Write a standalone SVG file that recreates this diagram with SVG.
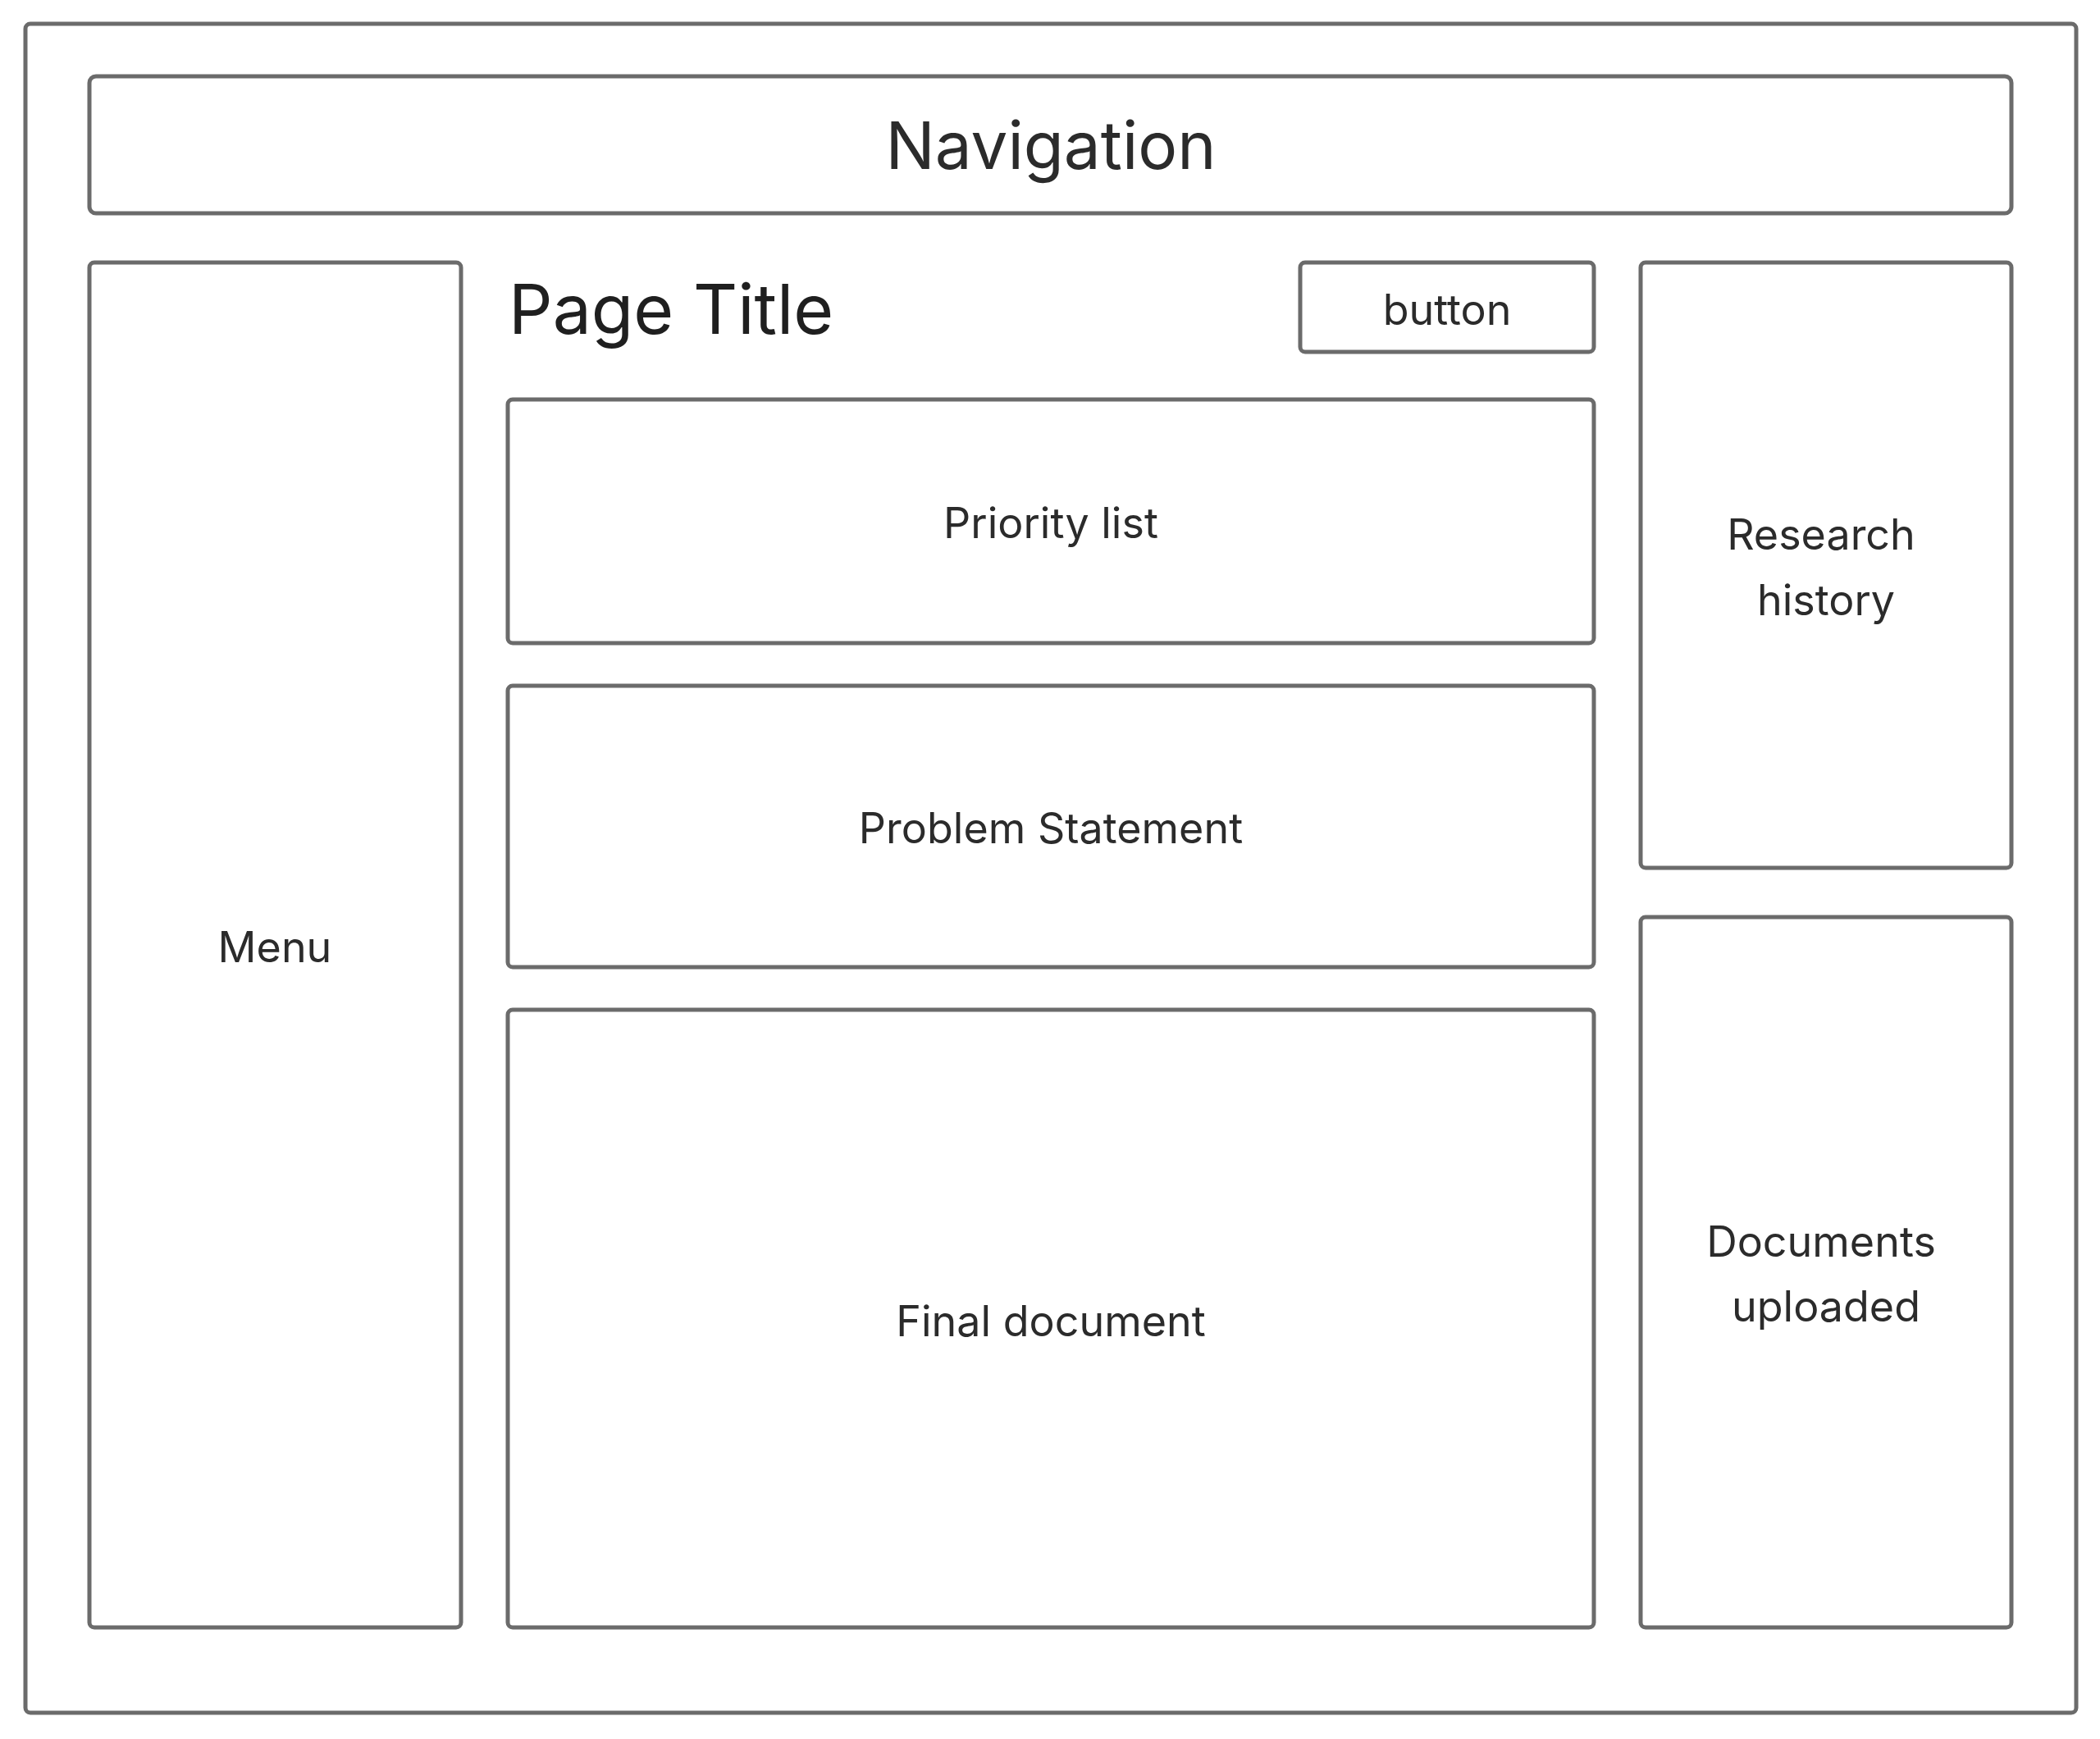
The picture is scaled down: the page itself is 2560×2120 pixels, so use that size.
<svg xmlns="http://www.w3.org/2000/svg" width="2560" height="2120" viewBox="0 0 2560 2120">
<style>
rect{fill:#fff;stroke:#6b6b6b;stroke-width:5}
text{font-family:Inter,"Noto Sans",sans-serif;fill:#2b2b2b;text-anchor:middle;dominant-baseline:central;font-size:52px}
</style>
<rect x="0" y="0" width="2560" height="2120" style="stroke:none"/>
<g id="frame"><rect x="31" y="29" width="2500" height="2059" rx="6"/></g>
<g id="navigation"><rect x="109" y="93" width="2343" height="167" rx="8"/><text x="1281" y="176" style="font-size:80px">Navigation</text></g>
<g id="menu"><rect x="109" y="320" width="453" height="1664" rx="6"/><text x="335" y="1154">Menu</text></g>
<g id="title"><text x="620" y="376" style="font-size:84px;text-anchor:start;fill:#1f1f1f">Page Title</text></g>
<g id="button"><rect x="1585" y="320" width="358" height="109" rx="6"/><text x="1764" y="377">button</text></g>
<g id="priority"><rect x="619" y="487" width="1324" height="297" rx="6"/><text x="1281" y="637">Priority list</text></g>
<g id="problem"><rect x="619" y="836" width="1324" height="343" rx="6"/><text x="1281" y="1009">Problem Statement</text></g>
<g id="final"><rect x="619" y="1231" width="1324" height="753" rx="6"/><text x="1281" y="1610">Final document</text></g>
<g id="research"><rect x="2000" y="320" width="452" height="738" rx="6"/><text x="2220" y="651">Research</text><text x="2226" y="731">history</text></g>
<g id="documents"><rect x="2000" y="1118" width="452" height="866" rx="6"/><text x="2220" y="1513">Documents</text><text x="2226" y="1592">uploaded</text></g>
<g id="connectors"></g>
</svg>
